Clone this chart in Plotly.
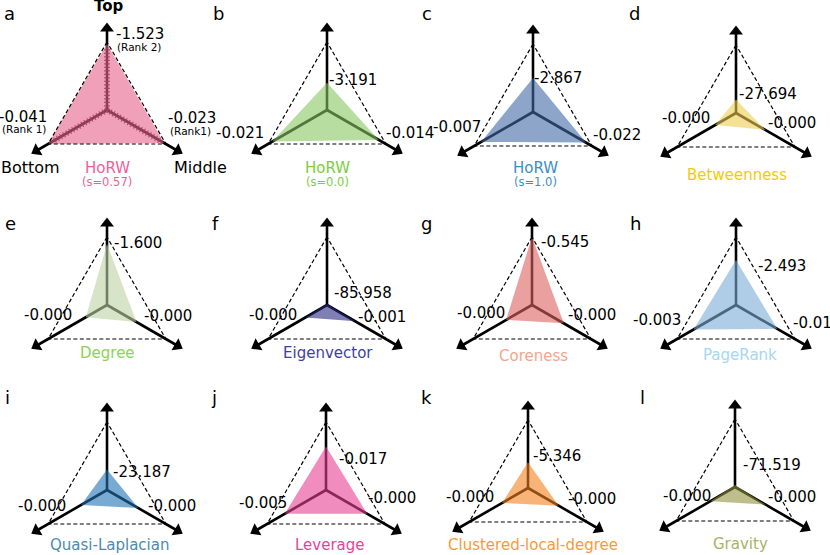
import math
import plotly.graph_objects as go

# ---------------- data ----------------
panel_letters = ["a", "b", "c", "d", "e", "f", "g", "h", "i", "j", "k", "l"]
method_names = ["HoRW", "HoRW", "HoRW", "Betweenness", "Degree", "Eigenvector",
                "Coreness", "PageRank", "Quasi-Laplacian", "Leverage",
                "Clustered-local-degree", "Gravity"]
method_subnames = ["(s=0.57)", "(s=0.0)", "(s=1.0)", "", "", "", "", "", "", "", "", ""]
# relative extent of each filled triangle along Top / Bottom / Middle axes
top_frac = [0.97, 0.40, 0.50, 0.20, 0.90, 0.02, 1.00, 0.66, 0.30, 0.64, 0.38, 0.03]
bottom_frac = [1.00, 0.93, 0.88, 0.35, 0.36, 0.37, 0.44, 0.72, 0.44, 0.70, 0.44, 0.42]
middle_frac = [0.97, 0.88, 0.90, 0.50, 0.50, 0.48, 0.54, 0.70, 0.53, 0.70, 0.52, 0.52]
top_text = ["-1.523", "-3.191", "-2.867", "-27.694", "-1.600", "-85.958",
            "-0.545", "-2.493", "-23.187", "-0.017", "-5.346", "-71.519"]
bottom_text = ["-0.041", "-0.021", "-0.007", "-0.000", "-0.000", "-0.000",
               "-0.000", "-0.003", "-0.000", "-0.005", "-0.000", "-0.000"]
middle_text = ["-0.023", "-0.014", "-0.022", "-0.000", "-0.000", "-0.001",
               "-0.000", "-0.01", "-0.000", "-0.000", "-0.000", "-0.000"]
rank_text = ["(Rank 2)", "(Rank 1)", "(Rank1)"]
axis_names = ["Top", "Bottom", "Middle"]

# ---------------- styles ----------------
fill_colors = ["#E6618A", "#87C861", "#3F69A3", "#EECD50", "#BCD2A3", "#2A2A80",
               "#DE6161", "#7AACD5", "#1E71B4", "#E63F93", "#F3821E", "#93933F"]
name_colors = ["#F0609A", "#7DCD3C", "#3A8FC5", "#F5CB00", "#8CD25A", "#3F3F9E",
               "#F5A58C", "#A5D8F2", "#4A8AB0", "#E8439A", "#F79A3A", "#A9B365"]

# ---------------- layout (pixel geometry) ----------------
centers = [(107, 110), (327, 110), (533, 112), (736, 113),
           (107, 305), (327, 305), (532, 305), (736, 305),
           (107, 490), (326, 490), (528, 488), (735, 487)]
letter_pos = [(3, 13), (212, 13), (421, 13), (628, 13),
              (4, 223), (211, 223), (420, 223), (629, 223),
              (4, 397), (210, 397), (420, 397), (639, 397)]
name_off = [(0, 58), (0, 58), (2, 56), (1, 62), (0, 48), (1, 48),
            (1, 51), (4, 50), (2, 55), (4, 55), (5, 57), (5, 57)]
top_off = [(8, -76), (1, -30), (0, -34), (2, -19), (6, -62), (6, -12),
           (8, -63), (21, -39), (5, -18), (12, -31), (4, -32), (7, -22)]
bl_off = [(-59, 7), (-62, 23), (-51, 15), (-25, 5), (-34, 10), (-29, 10),
          (-26, 8), (-54, 15), (-40, 16), (-38, 13), (-33, 9), (-23, 9)]
br_off = [(60, 8), (58, 23), (59, 23), (31, 10), (36, 11), (30, 12),
          (35, 10), (56, 18), (40, 16), (41, 8), (39, 11), (32, 10)]

R = 68
TIP = 90
HEAD = 8.5
FONT = "DejaVu Sans"
s3 = math.sqrt(3) / 2
DIRS = [(0.0, -1.0), (-s3, 0.5), (s3, 0.5)]   # top, bottom(left), middle(right)
ANG = [0, 240, 120]

fig = go.Figure()
ann = []


def add_text(x, y, text, size, color="black", xanchor="left", bold=False):
    ann.append(dict(x=x, y=y, xref="x", yref="y", text=(f"<b>{text}</b>" if bold else text),
                    showarrow=False, xanchor=xanchor, yanchor="middle",
                    font=dict(family=FONT, size=size, color=color), borderpad=0))


for p in range(12):
    cx, cy = centers[p]
    # spokes
    sx, sy = [], []
    for dx, dy in DIRS:
        sx += [cx, cx + (TIP - HEAD) * dx, None]
        sy += [cy, cy + (TIP - HEAD) * dy, None]
    fig.add_trace(go.Scatter(x=sx, y=sy, mode="lines",
                             line=dict(color="black", width=2.6),
                             hoverinfo="skip", showlegend=False))
    # arrow heads
    fig.add_trace(go.Scatter(x=[cx + (TIP - HEAD) * d[0] for d in DIRS],
                             y=[cy + (TIP - HEAD) * d[1] for d in DIRS],
                             mode="markers",
                             marker=dict(symbol="triangle-up", size=12, color="black",
                                         angle=ANG, line=dict(width=0)),
                             hoverinfo="skip", showlegend=False))
    if p == 0:
        cx_, cy_ = [], []
        for dx, dy in DIRS:
            cx_ += [cx, cx + 0.9 * R * dx, None]
            cy_ += [cy, cy + 0.9 * R * dy, None]
        fig.add_trace(go.Scatter(x=cx_, y=cy_, mode="lines",
                                 line=dict(color="rgba(60,20,30,0.8)", width=6, dash="1.2px,2.3px"),
                                 hoverinfo="skip", showlegend=False))
    # filled triangle
    fr = [top_frac[p], bottom_frac[p], middle_frac[p]]
    fx = [cx + R * f * d[0] for f, d in zip(fr, DIRS)]
    fy = [cy + R * f * d[1] for f, d in zip(fr, DIRS)]
    col = fill_colors[p]
    r_, g_, b_ = int(col[1:3], 16), int(col[3:5], 16), int(col[5:7], 16)
    fig.add_trace(go.Scatter(x=fx + [fx[0]], y=fy + [fy[0]], mode="lines",
                             fill="toself", fillcolor=f"rgba({r_},{g_},{b_},0.6)",
                             line=dict(width=0, color="rgba(0,0,0,0)"),
                             hoverinfo="skip", showlegend=False))
    # dashed frame
    tx = [cx + R * d[0] for d in DIRS] + [cx + R * DIRS[0][0]]
    ty = [cy + R * d[1] for d in DIRS] + [cy + R * DIRS[0][1]]
    fig.add_trace(go.Scatter(x=tx, y=ty, mode="lines",
                             line=dict(color="black", width=1.2, dash="4px,2.5px"),
                             hoverinfo="skip", showlegend=False))

    # panel letter
    add_text(letter_pos[p][0], letter_pos[p][1], panel_letters[p], 18)
    # values
    add_text(cx + top_off[p][0], cy + top_off[p][1], top_text[p], 15)
    add_text(cx + bl_off[p][0], cy + bl_off[p][1], bottom_text[p], 15, xanchor="right")
    add_text(cx + br_off[p][0], cy + br_off[p][1], middle_text[p], 15)
    # names
    add_text(cx + name_off[p][0], cy + name_off[p][1], method_names[p], 15,
             color=name_colors[p], xanchor="center")
    if method_subnames[p]:
        add_text(cx + name_off[p][0], cy + name_off[p][1] + 14, method_subnames[p], 11.5,
                 color=name_colors[p], xanchor="center")
    if p == 0:
        add_text(cx + top_off[p][0] + 1, cy + top_off[p][1] + 13, rank_text[0], 10.5)
        add_text(cx + bl_off[p][0] - 1, cy + bl_off[p][1] + 12, rank_text[1], 10.5, xanchor="right")
        add_text(cx + br_off[p][0] + 2, cy + br_off[p][1] + 13, rank_text[2], 10.5)
        add_text(cx + 2, 6, axis_names[0], 15, xanchor="center", bold=True)
        add_text(cx - 77, cy + 57, axis_names[1], 16, xanchor="center")
        add_text(cx + 93, cy + 57, axis_names[2], 16, xanchor="center")

fig.update_layout(
    width=830, height=555,
    margin=dict(l=0, r=0, t=0, b=0),
    paper_bgcolor="white", plot_bgcolor="white",
    xaxis=dict(range=[0, 830], visible=False, fixedrange=True),
    yaxis=dict(range=[555, 0], visible=False, fixedrange=True),
    annotations=ann,
    showlegend=False,
)
fig.write_html("out.html", config={"displayModeBar": False},
               post_script="document.body.style.margin='0';document.body.style.overflow='hidden';")
